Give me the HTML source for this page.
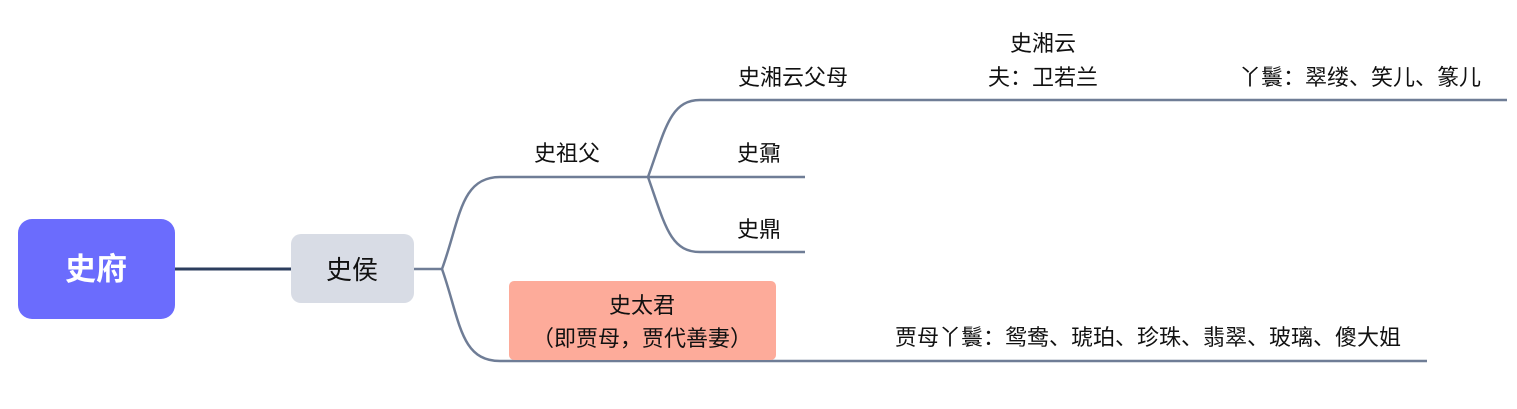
<!DOCTYPE html>
<html><head><meta charset="utf-8"><style>
html,body{margin:0;padding:0;background:#fff;width:1517px;height:409px;overflow:hidden}
text{font-family:"Liberation Sans","Noto Sans CJK SC",sans-serif;font-size:22px;fill:#111}
</style></head><body>
<svg width="1517" height="409" viewBox="0 0 1517 409">
<g fill="none" stroke="#6f7d96" stroke-width="2.5">
<path d="M414 269 H442 C460 220 460 177 500 177 H648"/>
<path d="M442 269 C460 320 460 361 500 361 H1427"/>
<path d="M648 177 C665 130 670 100 700 100 H1507"/>
<path d="M648 177 H805"/>
<path d="M648 177 C665 225 670 252 700 252 H805"/>
</g>
<path d="M175 269 H291" stroke="#2c3e5e" stroke-width="3"/>
<rect x="18" y="219" width="157" height="100" rx="14" fill="#6b6cfd"/>
<text x="96" y="280" text-anchor="middle" style="fill:#fff;font-size:31px;font-weight:bold">史府</text>
<rect x="291" y="234" width="123" height="69" rx="10" fill="#d8dce5"/>
<text x="352" y="279" text-anchor="middle" style="font-size:26px">史侯</text>
<rect x="509" y="281" width="267" height="79" rx="5" fill="#fdab9a"/>
<text x="642" y="313" text-anchor="middle">史太君</text>
<text x="642" y="346" text-anchor="middle">（即贾母，贾代善妻）</text>
<text x="567" y="161" text-anchor="middle">史祖父</text>
<text x="793" y="85" text-anchor="middle">史湘云父母</text>
<text x="1043" y="51" text-anchor="middle">史湘云</text>
<text x="1043" y="85" text-anchor="middle">夫：卫若兰</text>
<text x="1360" y="85" text-anchor="middle">丫鬟：翠缕、笑儿、篆儿</text>
<text x="759" y="161" text-anchor="middle">史鼐</text>
<text x="759" y="237" text-anchor="middle">史鼎</text>
<text x="1148" y="345" text-anchor="middle">贾母丫鬟：鸳鸯、琥珀、珍珠、翡翠、玻璃、傻大姐</text>
</svg>
</body></html>
